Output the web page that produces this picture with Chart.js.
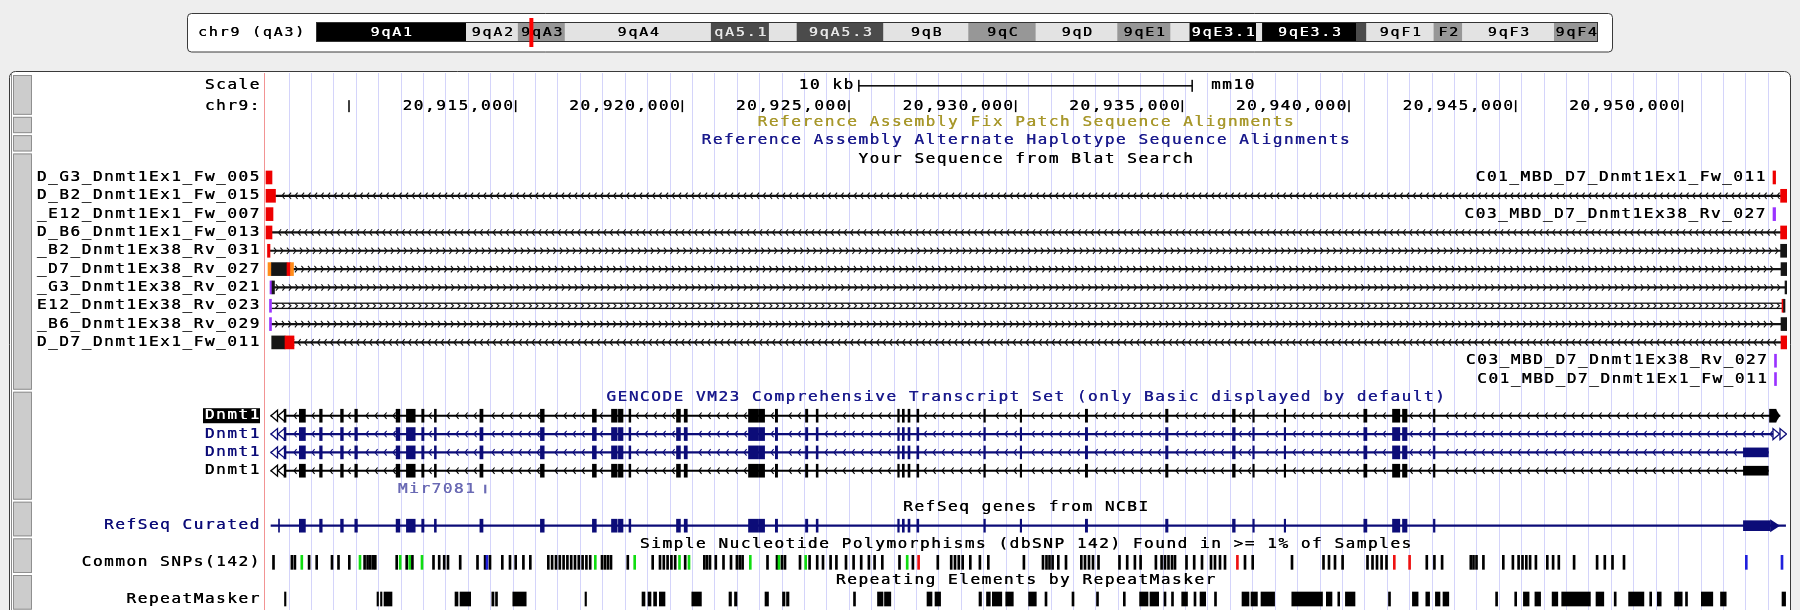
<!DOCTYPE html>
<html>
<head>
<meta charset="utf-8">
<title>mm10 chr9 – Dnmt1 region</title>
<script src="https://cdn.jsdelivr.net/npm/chart.js@4.4.1/dist/chart.umd.min.js"></script>
<style>
  html, body { margin: 0; padding: 0; background: #eeeeee; }
  #page { position: relative; width: 1800px; height: 610px; overflow: hidden; }
  #tracks { position: absolute; left: 0; top: 0; }
  #ideogram { position: absolute; left: 316px; top: 16px; }
</style>
</head>
<body>
<div id="page">
  <canvas id="tracks" width="1800" height="610"></canvas>
  <canvas id="ideogram" width="1282" height="34"></canvas>
</div>
<script>
// ---------------- region shown ----------------
const CHROM = 'chr9';
const ASSEMBLY = 'mm10';
const VIEW_START = 20907450;
const VIEW_END = 20953140;
const CHROM_LENGTH_MB = 124.595;
const SCALE_BAR_BP = 10000;
const SCALE_BAR_LABEL = '10 kb';

// base-position ruler
const rulerTicks = [20910000, 20915000, 20920000, 20925000, 20930000, 20935000, 20940000, 20945000, 20950000];
const rulerLabels = ['', '20,915,000', '20,920,000', '20,925,000', '20,930,000', '20,935,000', '20,940,000', '20,945,000', '20,950,000'];

// chromosome bands (Mb)
const bandNames  = ['9qA1','9qA2','9qA3','9qA4','9qA5.1','9qA5.2','9qA5.3','9qB','9qC','9qD','9qE1','9qE2','9qE3.1','9qE3.2','9qE3.3','9qE4','9qF1','9qF2','9qF3','9qF4'];
const bandLabels = ['9qA1','9qA2','9qA3','9qA4','qA5.1','','9qA5.3','9qB','9qC','9qD','9qE1','','9qE3.1','','9qE3.3','','9qF1','F2','9qF3','9qF4'];
const bandStartMb = [0, 14.61, 19.65, 24.21, 38.41, 44.05, 46.75, 55.16, 63.43, 69.97, 77.91, 83.06, 84.93, 91.39, 91.98, 101.11, 102.10, 108.65, 111.42, 120.35];
const bandEndMb   = [14.61, 19.65, 24.21, 38.41, 44.05, 46.75, 55.16, 63.43, 69.97, 77.91, 83.06, 84.93, 91.39, 91.98, 101.11, 102.10, 108.65, 111.42, 120.35, 124.595];
const bandStain   = ['gpos100','gneg','gpos50','gneg','gpos75','gneg','gpos75','gneg','gpos50','gneg','gpos50','gneg','gpos100','gneg','gpos100','gpos75','gneg','gpos50','gneg','gpos50'];

// track titles
const titleRows  = [2, 3, 4, 17, 23, 25, 27];
const titleTexts = [
  'Reference Assembly Fix Patch Sequence Alignments',
  'Reference Assembly Alternate Haplotype Sequence Alignments',
  'Your Sequence from Blat Search',
  'GENCODE VM23 Comprehensive Transcript Set (only Basic displayed by default)',
  'RefSeq genes from NCBI',
  'Simple Nucleotide Polymorphisms (dbSNP 142) Found in >= 1% of Samples',
  'Repeating Elements by RepeatMasker'
];
const titleKinds = ['fix', 'alt', 'plain', 'gencode', 'plain', 'plain', 'plain'];

// BLAT hits: lane, name, where the name goes, strand, gap drawing, aligned blocks [start, end, base-colour class]
const blatLane   = [0, 0, 1, 2, 2, 3, 4, 5, 6, 7, 8, 9, 10, 11];
const blatName   = ['D_G3_Dnmt1Ex1_Fw_005', 'C01_MBD_D7_Dnmt1Ex1_Fw_011', 'D_B2_Dnmt1Ex1_Fw_015', '_E12_Dnmt1Ex1_Fw_007',
                    'C03_MBD_D7_Dnmt1Ex38_Rv_027', 'D_B6_Dnmt1Ex1_Fw_013', '_B2_Dnmt1Ex38_Rv_031', '_D7_Dnmt1Ex38_Rv_027',
                    '_G3_Dnmt1Ex38_Rv_021', 'E12_Dnmt1Ex38_Rv_023', '_B6_Dnmt1Ex38_Rv_029', 'D_D7_Dnmt1Ex1_Fw_011',
                    'C03_MBD_D7_Dnmt1Ex38_Rv_027', 'C01_MBD_D7_Dnmt1Ex1_Fw_011'];
const blatNameSide = ['left', 'right', 'left', 'left', 'right', 'left', 'left', 'left', 'left', 'left', 'left', 'left', 'right', 'right'];
const blatStrand = ['-', '-', '-', '-', '+', '-', '+', '+', '+', '+', '+', '-', '+', '-'];
const blatGap    = ['single', 'single', 'single', 'single', 'single', 'single', 'single', 'single', 'single', 'double', 'single', 'single', 'single', 'single'];
const blatBlocks = [
  [[20907510, 20907690, 'mis']],
  [[20952720, 20952798, 'mis']],
  [[20907510, 20907795, 'mis'], [20952948, 20953170, 'mis']],
  [[20907510, 20907720, 'mis']],
  [[20952720, 20952798, 'ins']],
  [[20907510, 20907690, 'mis'], [20952948, 20953170, 'mis']],
  [[20907555, 20907630, 'mis'], [20952948, 20953170, 'match']],
  [[20907570, 20907675, 'poly'], [20907675, 20908140, 'match'], [20908140, 20908245, 'mis'], [20908245, 20908335, 'poly'], [20952960, 20953170, 'match']],
  [[20907630, 20907690, 'ins'], [20907690, 20907765, 'match'], [20953080, 20953170, 'match']],
  [[20907615, 20907675, 'ins'], [20952990, 20953035, 'mis'], [20953035, 20953080, 'match']],
  [[20907615, 20907675, 'ins'], [20952960, 20953170, 'match']],
  [[20907681, 20908080, 'match'], [20908080, 20908350, 'mis'], [20952960, 20953170, 'mis']],
  [[20952765, 20952825, 'ins']],
  [[20952765, 20952825, 'ins']]
];

// Dnmt1 exons shared by the transcripts (minus strand)
const dnmt1ExonStart = [20908509, 20909118, 20909748, 20910174, 20911413, 20911722, 20912181, 20912562, 20913927, 20915742,
                        20917302, 20917875, 20918082, 20918400, 20919825, 20920056, 20921985, 20922282, 20922789, 20923695,
                        20924016, 20926461, 20926599, 20926770, 20927037, 20929044, 20930136, 20932089, 20934498, 20936505,
                        20937114, 20938056, 20940444, 20941305, 20941605, 20942532];
const dnmt1ExonEnd   = [20908692, 20909196, 20909829, 20910252, 20911527, 20911986, 20912250, 20912619, 20914020, 20915856,
                        20917419, 20918046, 20918220, 20918454, 20919942, 20920149, 20922261, 20922468, 20922858, 20923764,
                        20924073, 20926509, 20926659, 20926830, 20927094, 20929092, 20930181, 20932158, 20934570, 20936586,
                        20937159, 20938101, 20940537, 20941524, 20941740, 20942580];

// GENCODE VM23 transcripts
const gencodeName      = ['Dnmt1', 'Dnmt1', 'Dnmt1', 'Dnmt1'];
const gencodeTxStart   = [20907660, 20907660, 20907660, 20907660];
const gencodeTxEnd     = [20952930, 20952720, 20952579, 20952579];
const gencodeLastExon  = [[20952615, 20952810], null, null, null];
const gencodeUtrBlock  = [null, null, [20951832, 20952579], [20951832, 20952579]];
const gencode3pExon    = [20908050, 20908110];
const gencodeLeftEnd   = ['open', 'open', 'open', 'open'];
const gencodeRightEnd  = ['tip', 'open', 'none', 'none'];
const gencodeClass     = ['selected', 'basic', 'basic', 'plain'];

// RefSeq Curated
const refseqName     = 'RefSeq Curated';
const refseqTxStart  = 20907660;
const refseqTxEnd    = 20953098;
const refseq3pExon   = [20907885, 20907915];
const refseqUtrBlock = [20951832, 20952636];
const refseqTipEnd   = 20952930;

// miRNA
const mirName = 'Mir7081';
const mirSpan = [20914065, 20914110];

// Common SNPs(142): position and function class (i intron/other, s synonymous, m missense, u UTR)
const snpPos = [
  20907705, 20908257, 20908347, 20908554, 20908773, 20909001, 20909460, 20909655, 20909979, 20910300,
  20910438, 20910528, 20910609, 20910690, 20910759, 20911401, 20911506, 20911701, 20911791, 20911872,
  20912160, 20912505, 20912676, 20912826, 20912940, 20913306, 20913825, 20914053, 20914110, 20914200,
  20914569, 20914800, 20914971, 20915202, 20915409, 20915949, 20916063, 20916180, 20916294, 20916408,
  20916522, 20916636, 20916750, 20916864, 20916978, 20917092, 20917206, 20917359, 20917560, 20917650,
  20917740, 20917830, 20918334, 20918541, 20919081, 20919300, 20919414, 20919528, 20919642, 20919756,
  20919885, 20920056, 20920170, 20920629, 20920710, 20920800, 20920974, 20921205, 20921430, 20921607,
  20921694, 20921778, 20922009, 20922525, 20922810, 20922870, 20922960, 20923050, 20923500, 20923671,
  20923788, 20924016, 20924190, 20924418, 20924592, 20924880, 20925108, 20925336, 20925567, 20925738,
  20925969, 20926485, 20926716, 20926887, 20927058, 20927634, 20928036, 20928150, 20928264, 20928381,
  20928609, 20928897, 20929149, 20930217, 20930790, 20930895, 20930985, 20931078, 20931249, 20931480,
  20931939, 20932050, 20932170, 20932290, 20932455, 20933085, 20933316, 20933547, 20933718, 20934177,
  20934348, 20934450, 20934555, 20934660, 20934750, 20935095, 20935326, 20935560, 20935830, 20935950,
  20936100, 20936250, 20936622, 20936850, 20937081, 20938260, 20939205, 20939370, 20939550, 20939778,
  20940525, 20940675, 20940810, 20940948, 20941095, 20941329, 20941788, 20942304, 20942532, 20942763,
  20943624, 20943705, 20943795, 20944002, 20944599, 20944887, 20945058, 20945175, 20945289, 20945403,
  20945577, 20945919, 20946093, 20946264, 20946723, 20947413, 20947644, 20947875, 20948220, 20951889,
  20952960
];
const snpFunc = (
  'iiisiiiiis' + 'iiiiiisisi' + 'siiiiiiiui' + 'iiiiiiiiii' + 'iiiiiiisii' +
  'iiisiiiiii' + 'sisiiiiiii' + 'iisiisiiis' + 'iiiiiiiiii' + 'iisimiiiii' +
  'iiiiiiiiii' + 'iiiiiiiiii' + 'iiiiiiiiii' + 'iimiiiiiii' + 'iiiiimmiii' +
  'iiiiiiiiii' + 'iiiiiiiiiu' + 'u'
).split('');

// RepeatMasker elements
const rmskStart = [
  20908065, 20910840, 20910945, 20911050, 20913180, 20913330, 20914284, 20914395, 20914914, 20917080,
  20918790, 20918970, 20919138, 20919309, 20920284, 20921400, 20921565, 20922480, 20923005, 20923125,
  20925135, 20925855, 20926065, 20927340, 20927580, 20928900, 20929125, 20929299, 20929701, 20930388,
  20930880, 20931690, 20932425, 20933229, 20933718, 20934030, 20934450, 20934675, 20934981, 20935350,
  20935530, 20935965, 20936790, 20937060, 20937360, 20938284, 20939319, 20939664, 20939892, 20941185,
  20941902, 20942304, 20942592, 20942820, 20944398, 20944971, 20945232, 20945577, 20946093, 20946381,
  20947410, 20947956, 20948388, 20949021, 20949249, 20949768, 20950095, 20950569, 20951145, 20952990
];
const rmskEnd = [
  20908110, 20910885, 20910990, 20911290, 20913270, 20913651, 20914350, 20914455, 20915316, 20917125,
  20918880, 20919060, 20919228, 20919480, 20920572, 20921475, 20921640, 20922585, 20923080, 20923200,
  20925195, 20926020, 20926254, 20927490, 20927748, 20928975, 20929239, 20929584, 20929929, 20930619,
  20930940, 20931750, 20932485, 20933289, 20933970, 20934291, 20934510, 20934735, 20935155, 20935410,
  20935701, 20936025, 20937000, 20937252, 20937768, 20939205, 20939490, 20939721, 20940180, 20941245,
  20942073, 20942418, 20942730, 20942994, 20944458, 20945031, 20945403, 20945748, 20946264, 20947242,
  20947644, 20948016, 20948847, 20949081, 20949366, 20949996, 20950155, 20950914, 20951316, 20953098
];

// ---------------- layout & styles ----------------
const ROW = { scale: 0, ruler: 1, blat: 5, gencode: 18, mir: 22, refseq: 24, snp: 26, rmsk: 28 };
const ROW_MIN = -0.7, ROW_MAX = 28.6;
const RULER_SHIFT = 2;
const FONT = '"DejaVu Sans Mono", "Liberation Mono", monospace';
const CHAR_W = 11.2, FONT_PX = 14, STRETCH = 1.15;
const NAVY = '#0c0c78';
const TITLE_COLOR = { fix: '#a8982c', alt: '#1a1a8c', gencode: '#1a1a8c', plain: '#000000' };
const BLOCK_COLOR = { mis: '#ee0000', match: '#151515', ins: '#9a33ff', poly: '#ff8c1a' };
const SNP_COLOR = { i: '#000000', s: '#10dd10', m: '#ee1111', u: '#2020dd' };
const GENE_COLOR = { selected: '#000000', basic: NAVY, plain: '#000000' };
const STAIN_COLOR = { gneg: '#e3e3e3', gpos50: '#979797', gpos75: '#4b4b4b', gpos100: '#000000' };
const STAIN_TEXT  = { gneg: '#000000', gpos50: '#000000', gpos75: '#e6e6e6', gpos100: '#ffffff' };
const GUIDE_COLOR = '#d4d4fa';
const GUIDE_FIRST = 20908200, GUIDE_STEP = 672.4;
const SIDE_BUTTONS = [[0, 1], [2, 2], [3, 3], [4, 16], [17, 22], [23, 24], [25, 26], [27, 28]];

// ---------------- helpers ----------------
function monoText(ctx, text, x, y, align, color, opts = {}) {
  const adv = opts.adv || CHAR_W, px = opts.px || FONT_PX, stretch = opts.stretch || STRETCH;
  const w = text.length * adv;
  const x0 = align === 'right' ? x - w : align === 'center' ? x - w / 2 : x;
  ctx.save();
  ctx.font = `${px}px ${FONT}`;
  ctx.fillStyle = color;
  ctx.textAlign = 'center';
  ctx.textBaseline = 'middle';
  for (let i = 0; i < text.length; i++) {
    if (text[i] === ' ') continue;
    ctx.setTransform(stretch, 0, 0, 1, x0 + adv * (i + 0.5), y);
    ctx.fillText(text[i], 0, 0);
    ctx.fillText(text[i], 0.35, 0);
  }
  ctx.restore();
  return { x0, w };
}

function roundBox(ctx, x, y, w, h, r, fill, stroke) {
  ctx.beginPath();
  ctx.roundRect(x, y, w, h, r);
  ctx.fillStyle = fill; ctx.fill();
  ctx.strokeStyle = stroke; ctx.lineWidth = 1; ctx.stroke();
}

function chevrons(ctx, x0, x1, y, dir, step, half, color, skip) {
  ctx.beginPath();
  for (let px = x0 + step; px < x1 - 2; px += step) {
    if (skip && skip.some(([a, b]) => px > a - 3 && px < b + 3)) continue;
    if (dir < 0) { ctx.moveTo(px + 2.6, y - half); ctx.lineTo(px, y); ctx.lineTo(px + 2.6, y + half); }
    else { ctx.moveTo(px - 2.6, y - half); ctx.lineTo(px, y); ctx.lineTo(px - 2.6, y + half); }
  }
  ctx.strokeStyle = color; ctx.lineWidth = 1.1; ctx.stroke();
}

function openArrows(ctx, x, y, dir, color) {
  ctx.save();
  ctx.lineWidth = 1.3; ctx.strokeStyle = color; ctx.fillStyle = '#ffffff';
  for (let k = 0; k < 2; k++) {
    const a = x + k * 7;
    ctx.beginPath();
    if (dir < 0) { ctx.moveTo(a, y); ctx.lineTo(a + 6.5, y - 5.5); ctx.lineTo(a + 6.5, y + 5.5); }
    else { ctx.moveTo(a + 6.5, y); ctx.lineTo(a, y - 5.5); ctx.lineTo(a, y + 5.5); }
    ctx.closePath(); ctx.fill(); ctx.stroke();
  }
  ctx.restore();
}

function tip(ctx, x0, x1, y, half, color) {
  ctx.beginPath();
  ctx.moveTo(x0, y - half); ctx.lineTo(x1, y); ctx.lineTo(x0, y + half); ctx.closePath();
  ctx.fillStyle = color; ctx.fill();
}

// ---------------- datasets ----------------
const datasets = [];
function barSet(points, color, thickness, order, extra = {}) {
  datasets.push(Object.assign({
    type: 'bar', data: points, backgroundColor: color, barThickness: thickness,
    order, borderWidth: 0, grouped: false, borderSkipped: false
  }, extra));
}

// BLAT hits
const blatLinePts = [], blatBlockPts = [], blatBlockCol = [];
blatBlocks.forEach((blocks, h) => {
  const row = ROW.blat + blatLane[h];
  if (blocks.length > 1 && blatGap[h] === 'single') {
    blatLinePts.push({ x: [blocks[0][1], blocks[blocks.length - 1][0]], y: row });
  }
  blocks.forEach(([s, e, c]) => { blatBlockPts.push({ x: [s, e], y: row }); blatBlockCol.push(BLOCK_COLOR[c]); });
});
barSet(blatLinePts, '#111111', 1.5, 6);
barSet(blatBlockPts, blatBlockCol, 13, 1);

// GENCODE transcripts
gencodeName.forEach((n, t) => {
  const row = ROW.gencode + t, col = GENE_COLOR[gencodeClass[t]];
  barSet([{ x: [gencodeTxStart[t], gencodeTxEnd[t]], y: row }], col, 1.5, 6);
  const ex = dnmt1ExonStart.map((s, i) => ({ x: [s, dnmt1ExonEnd[i]], y: row }));
  ex.push({ x: gencode3pExon, y: row });
  if (gencodeLastExon[t]) ex.push({ x: gencodeLastExon[t], y: row });
  barSet(ex, col, 13, 2);
  if (gencodeUtrBlock[t]) barSet([{ x: gencodeUtrBlock[t], y: row }], col, 9, 2);
});

// Mir7081
barSet([{ x: mirSpan, y: ROW.mir }], '#6a6ab4', 8, 2, { minBarLength: 1.5 });

// RefSeq
barSet([{ x: [refseqTxStart, refseqTxEnd], y: ROW.refseq }], NAVY, 1.5, 6);
barSet(dnmt1ExonStart.map((s, i) => ({ x: [s, dnmt1ExonEnd[i]], y: ROW.refseq }))
  .concat([{ x: refseq3pExon, y: ROW.refseq }]), NAVY, 13, 2);
barSet([{ x: refseqUtrBlock, y: ROW.refseq }], NAVY, 10, 2);

// SNPs
barSet(snpPos.map(p => ({ x: [p, p], y: ROW.snp })), snpFunc.map(f => SNP_COLOR[f]), 14, 3, { minBarLength: 2 });

// RepeatMasker
barSet(rmskStart.map((s, i) => ({ x: [s, rmskEnd[i]], y: ROW.rmsk })), '#000000', 14, 3, { minBarLength: 1.5 });

// ---------------- decoration / text plugin ----------------
const leftLabels = [[ROW.scale, 'Scale', '#000'], [ROW.ruler, CHROM + ':', '#000', false, RULER_SHIFT]];
blatName.forEach((n, h) => { if (blatNameSide[h] === 'left') leftLabels.push([ROW.blat + blatLane[h], n, '#000']); });
gencodeName.forEach((n, t) => leftLabels.push([ROW.gencode + t, n, gencodeClass[t] === 'basic' ? NAVY : '#000', gencodeClass[t] === 'selected']));
leftLabels.push([ROW.refseq, refseqName, NAVY], [ROW.snp, 'Common SNPs(142)', '#000'], [ROW.rmsk, 'RepeatMasker', '#000']);

function viewBand() {
  const mid = (VIEW_START + VIEW_END) / 2 / 1e6;
  const i = bandStartMb.findIndex((s, k) => mid >= s && mid < bandEndMb[k]);
  return bandNames[i].replace(/^\d+/, '');
}

const browserPlugin = {
  id: 'browserDecor',
  beforeDraw(chart) {
    const { ctx } = chart;
    const y = chart.scales.y;
    ctx.save();
    ctx.fillStyle = '#eeeeee';
    ctx.fillRect(0, 0, chart.width, chart.height);
    roundBox(ctx, 187.5, 13.5, 1425, 38.5, 4, '#ffffff', '#3a3a3a');
    monoText(ctx, `${CHROM} (${viewBand()})`, 197, 32.5, 'left', '#000', { adv: 10.8, px: 13 });
    roundBox(ctx, 9.5, 71.5, 1781, 600, 6, '#ffffff', '#3a3a3a');
    ctx.strokeStyle = '#8c8c8c'; ctx.beginPath(); ctx.moveTo(11.5, 74); ctx.lineTo(11.5, 610); ctx.stroke();
    SIDE_BUTTONS.forEach(([a, b], k) => {
      const top = k === 0 ? 75 : y.getPixelForValue(a - 0.5) + 3.5;
      const bot = y.getPixelForValue(b + 0.5) + 1.5;
      ctx.fillStyle = '#cccccc'; ctx.fillRect(13.5, top, 18, bot - top);
      ctx.strokeStyle = '#8f8f8f'; ctx.lineWidth = 1; ctx.strokeRect(13.5, top + 0.5, 18, bot - top - 1);
    });
    ctx.restore();
  },
  beforeDatasetsDraw(chart) {
    const { ctx, chartArea: a } = chart;
    const x = chart.scales.x, y = chart.scales.y;
    ctx.save();
    ctx.beginPath(); ctx.rect(a.left, a.top, a.right - a.left, a.bottom - a.top); ctx.clip();
    ctx.fillStyle = '#f29494';
    ctx.fillRect(a.left, a.top, 1, a.bottom - a.top);

    // scale bar
    const mid = (VIEW_START + VIEW_END) / 2;
    const sx1 = x.getPixelForValue(mid - SCALE_BAR_BP / 2), sx2 = x.getPixelForValue(mid + SCALE_BAR_BP / 2);
    const sy = y.getPixelForValue(ROW.scale);
    ctx.fillStyle = '#000';
    ctx.fillRect(sx1, sy - 0.75, sx2 - sx1, 1.5);
    ctx.fillRect(sx1 - 0.75, sy - 6, 1.5, 12);
    ctx.fillRect(sx2 - 0.75, sy - 6, 1.5, 12);

    // ruler ticks
    const ry = y.getPixelForValue(ROW.ruler) + RULER_SHIFT;
    rulerTicks.forEach(p => { const px = x.getPixelForValue(p); ctx.fillRect(px - 0.75, ry - 6, 1.5, 12); });

    // BLAT gap chevrons
    blatBlocks.forEach((blocks, h) => {
      if (blocks.length < 2) return;
      const by = y.getPixelForValue(ROW.blat + blatLane[h]);
      const x0 = x.getPixelForValue(blocks[0][1]), x1 = x.getPixelForValue(blocks[blocks.length - 1][0]);
      const dir = blatStrand[h] === '-' ? -1 : 1;
      if (blatGap[h] === 'double') {
        ctx.fillStyle = '#111';
        ctx.fillRect(x0, by - 3.2, x1 - x0, 1.3);
        ctx.fillRect(x0, by + 2.0, x1 - x0, 1.3);
        chevrons(ctx, x0, x1, by, dir, 6.5, 2.4, '#111');
      } else {
        chevrons(ctx, x0, x1, by, dir, 6.5, 3.2, '#111');
      }
    });

    // intron chevrons for the gene models
    const skip = dnmt1ExonStart.map((s, i) => [x.getPixelForValue(s), x.getPixelForValue(dnmt1ExonEnd[i])]);
    gencodeName.forEach((n, t) => {
      const gy = y.getPixelForValue(ROW.gencode + t);
      const x0 = x.getPixelForValue(gencodeTxStart[t]) + 14, x1 = x.getPixelForValue(gencodeTxEnd[t]);
      const sk = skip.slice();
      if (gencodeUtrBlock[t]) sk.push([x.getPixelForValue(gencodeUtrBlock[t][0]), x1]);
      chevrons(ctx, x0, x1, gy, -1, 9, 3.2, GENE_COLOR[gencodeClass[t]], sk);
    });
    ctx.restore();
  },
  afterDatasetsDraw(chart) {
    const { ctx, chartArea: a } = chart;
    const x = chart.scales.x, y = chart.scales.y;
    ctx.save();
    ctx.beginPath(); ctx.rect(a.left, a.top, a.right - a.left, a.bottom - a.top); ctx.clip();
    // transcript end marks
    gencodeName.forEach((n, t) => {
      const gy = y.getPixelForValue(ROW.gencode + t), col = GENE_COLOR[gencodeClass[t]];
      if (gencodeLeftEnd[t] === 'open') openArrows(ctx, x.getPixelForValue(gencodeTxStart[t]), gy, -1, col);
      if (gencodeRightEnd[t] === 'open') openArrows(ctx, x.getPixelForValue(gencodeTxEnd[t]), gy, 1, col);
      if (gencodeRightEnd[t] === 'tip') tip(ctx, x.getPixelForValue(gencodeLastExon[t][1]), x.getPixelForValue(gencodeTxEnd[t]), gy, 6.5, col);
    });
    tip(ctx, x.getPixelForValue(refseqUtrBlock[1]), x.getPixelForValue(refseqTipEnd), y.getPixelForValue(ROW.refseq), 6.5, NAVY);
    ctx.restore();

    // texts inside the data area
    const cx = (a.left + a.right) / 2;
    titleRows.forEach((r, i) => monoText(ctx, titleTexts[i], cx, y.getPixelForValue(r), 'center', TITLE_COLOR[titleKinds[i]]));
    const mid = (VIEW_START + VIEW_END) / 2;
    const sy = y.getPixelForValue(ROW.scale);
    monoText(ctx, SCALE_BAR_LABEL, x.getPixelForValue(mid - SCALE_BAR_BP / 2) - 5, sy, 'right', '#000');
    monoText(ctx, ASSEMBLY, x.getPixelForValue(mid + SCALE_BAR_BP / 2) + 18, sy, 'left', '#000');
    const ry = y.getPixelForValue(ROW.ruler) + RULER_SHIFT;
    rulerTicks.forEach((p, i) => { if (rulerLabels[i]) monoText(ctx, rulerLabels[i], x.getPixelForValue(p) - 2, ry, 'right', '#000'); });
    blatName.forEach((n, h) => {
      if (blatNameSide[h] !== 'right') return;
      monoText(ctx, n, x.getPixelForValue(blatBlocks[h][0][0]) - 7, y.getPixelForValue(ROW.blat + blatLane[h]), 'right', '#000');
    });
    monoText(ctx, mirName, x.getPixelForValue(mirSpan[0]) - 9, y.getPixelForValue(ROW.mir), 'right', '#6a6ab4');

    // track labels on the left
    leftLabels.forEach(([r, text, color, selected, shift]) => {
      const ly = y.getPixelForValue(r) + (shift || 0);
      if (selected) {
        ctx.fillStyle = '#000';
        ctx.fillRect(260 - text.length * CHAR_W - 1, ly - 7.5, text.length * CHAR_W + 1, 15);
        monoText(ctx, text, 260, ly, 'right', '#ffffff');
      } else {
        monoText(ctx, text, 260, ly, 'right', color);
      }
    });
  }
};

const guideTicks = [];
for (let v = GUIDE_FIRST; v <= VIEW_END; v += GUIDE_STEP) guideTicks.push({ value: v });

new Chart(document.getElementById('tracks'), {
  type: 'bar',
  data: { datasets },
  options: {
    indexAxis: 'y',
    responsive: false,
    animation: false,
    devicePixelRatio: 1,
    events: [],
    layout: { padding: { left: 264, right: 13, top: 73, bottom: 0 } },
    plugins: { legend: { display: false }, tooltip: { enabled: false } },
    scales: {
      x: {
        type: 'linear', position: 'top', min: VIEW_START, max: VIEW_END, offset: false,
        grid: { color: GUIDE_COLOR, lineWidth: 1, drawTicks: false, offset: false },
        border: { display: false },
        ticks: { display: false },
        afterBuildTicks: (s) => { s.ticks = guideTicks.slice(); },
        afterFit: (s) => { s.height = 0; }
      },
      y: { type: 'linear', min: ROW_MIN, max: ROW_MAX, reverse: true, display: false, offset: false }
    }
  },
  plugins: [browserPlugin]
});

// ---------------- chromosome ideogram ----------------
const ideoPlugin = {
  id: 'ideoDecor',
  afterDatasetsDraw(chart) {
    const { ctx, chartArea: a } = chart;
    const x = chart.scales.x;
    ctx.save();
    ctx.strokeStyle = '#333333'; ctx.lineWidth = 1;
    ctx.strokeRect(a.left + 0.5, a.top + 0.5, a.right - a.left - 1, a.bottom - a.top - 1);
    const cy = (a.top + a.bottom) / 2 + 0.5;
    bandLabels.forEach((lab, i) => {
      if (!lab) return;
      const c = (x.getPixelForValue(bandStartMb[i]) + x.getPixelForValue(bandEndMb[i])) / 2;
      monoText(ctx, lab, c, cy, 'center', STAIN_TEXT[bandStain[i]], { adv: 10.8, px: 13 });
    });
    const mx = x.getPixelForValue((VIEW_START + VIEW_END) / 2 / 1e6);
    ctx.fillStyle = '#ff0000';
    ctx.fillRect(mx - 2, 2, 4, 29);
    ctx.restore();
  }
};

new Chart(document.getElementById('ideogram'), {
  type: 'bar',
  data: {
    labels: [CHROM],
    datasets: [{
      data: bandStartMb.map((s, i) => ({ x: [s, bandEndMb[i]], y: CHROM })),
      backgroundColor: bandStain.map(s => STAIN_COLOR[s]),
      barThickness: 20, borderWidth: 0, grouped: false, borderSkipped: false
    }]
  },
  options: {
    indexAxis: 'y',
    responsive: false,
    animation: false,
    devicePixelRatio: 1,
    events: [],
    layout: { padding: { left: 0, right: 0, top: 6, bottom: 8 } },
    plugins: { legend: { display: false }, tooltip: { enabled: false } },
    scales: {
      x: { type: 'linear', min: 0, max: CHROM_LENGTH_MB, display: false },
      y: { type: 'category', display: false }
    }
  },
  plugins: [ideoPlugin]
});
</script>
</body>
</html>
